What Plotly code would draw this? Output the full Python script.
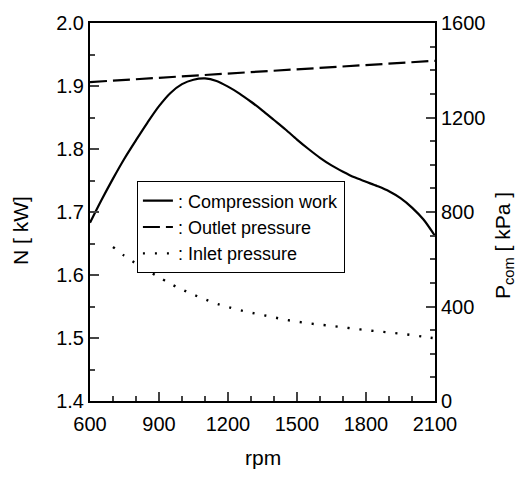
import plotly.graph_objects as go

# ---- data ----
rpm_work = [600, 650, 700, 750, 800, 850, 900, 950, 1000, 1050, 1100, 1150, 1200, 1250,
            1300, 1350, 1400, 1450, 1500, 1550, 1600, 1650, 1700, 1750, 1800, 1850, 1900,
            1950, 2000, 2050, 2100]
work_kw = [1.683, 1.719, 1.753, 1.785, 1.814, 1.842, 1.868, 1.889, 1.903, 1.910, 1.912,
           1.908, 1.899, 1.888, 1.875, 1.861, 1.846, 1.831, 1.815, 1.800, 1.786, 1.774,
           1.764, 1.755, 1.748, 1.741, 1.733, 1.722, 1.707, 1.688, 1.662]

rpm_out = [600, 900, 1200, 1500, 1800, 2100]
outlet_kpa = [1350, 1368, 1386, 1404, 1422, 1440]

rpm_in = [700, 750, 800, 850, 900, 950, 1000, 1050, 1100, 1150, 1200, 1250, 1300, 1350,
          1400, 1450, 1500, 1550, 1600, 1650, 1700, 1750, 1800, 1850, 1900, 1950, 2000,
          2050, 2100]
inlet_kpa = [652, 614, 582, 552, 524, 496, 472, 450, 430, 412, 398, 385, 374, 364, 354,
             344, 336, 329, 323, 318, 312, 306, 300, 295, 290, 285, 279, 272, 265]

x_ticks = [600, 900, 1200, 1500, 1800, 2100]
y_ticks = [1.4, 1.5, 1.6, 1.7, 1.8, 1.9, 2.0]
y2_ticks = [0, 400, 800, 1200, 1600]

FONT = "Liberation Sans, Arial, sans-serif"

fig = go.Figure()
fig.add_trace(go.Scatter(x=rpm_work, y=work_kw, mode="lines", name=": Compression work",
                         legendgroup="a",
                         line=dict(color="black", width=2.2, shape="spline", smoothing=0.8)))
fig.add_trace(go.Scatter(x=rpm_out, y=outlet_kpa, mode="lines", name=": Outlet pressure",
                         legendgroup="b",
                         yaxis="y2", line=dict(color="black", width=2.2, dash="17px,6px")))
fig.add_trace(go.Scatter(x=rpm_in, y=inlet_kpa, mode="lines", name=": Inlet pressure",
                         legendgroup="c",
                         yaxis="y2", line=dict(color="black", width=2.4, dash="2px,10px",
                                               shape="spline", smoothing=0.8)))

fig.update_layout(
    width=526, height=490,
    margin=dict(l=90, r=91, t=19, b=89),
    paper_bgcolor="white", plot_bgcolor="white",
    font=dict(family=FONT, color="black", size=20),
    showlegend=True,
    legend=dict(x=0.136, y=0.581, xanchor="left", yanchor="top",
                bgcolor="white", bordercolor="black", borderwidth=1,
                font=dict(size=18, family=FONT), tracegroupgap=0,
                itemwidth=30),
    xaxis=dict(range=[600, 2100], tickvals=x_ticks, ticks="inside", ticklen=9,
               tickwidth=2, showline=True, linewidth=2, linecolor="black", mirror=True,
               showgrid=False, zeroline=False, ticklabelstandoff=4,
               minor=dict(dtick=100, ticks="inside", ticklen=5, tickwidth=2),
               tickfont=dict(size=20)),
    yaxis=dict(range=[1.4, 2.0], tickvals=y_ticks, tickformat=".1f", ticks="inside",
               ticklen=9, tickwidth=2, showline=True, linewidth=2, linecolor="black",
               showgrid=False, zeroline=False,
               minor=dict(dtick=0.05, ticks="inside", ticklen=5, tickwidth=2),
               tickfont=dict(size=20)),
    yaxis2=dict(range=[0, 1600], tickvals=y2_ticks, overlaying="y", side="right",
                ticks="inside", ticklen=9, tickwidth=2, showline=True, linewidth=2,
                linecolor="black", showgrid=False, zeroline=False,
                minor=dict(dtick=100, ticks="inside", ticklen=5, tickwidth=2),
                tickfont=dict(size=20)),
    annotations=[
        dict(text="rpm", xref="paper", yref="paper", x=0.5, y=-0.115, yanchor="top",
             showarrow=False, font=dict(size=21)),
        dict(text="N [ kW]", xref="paper", yref="paper", x=-0.2, y=0.45, textangle=-90,
             xanchor="center", yanchor="middle", showarrow=False, font=dict(size=21)),
        dict(text="P<sub>com</sub> [ kPa ]", xref="paper", yref="paper", x=1.2, y=0.41,
             textangle=-90, xanchor="center", yanchor="middle", showarrow=False,
             font=dict(size=21)),
    ],
)

fig.write_html("out.html")
